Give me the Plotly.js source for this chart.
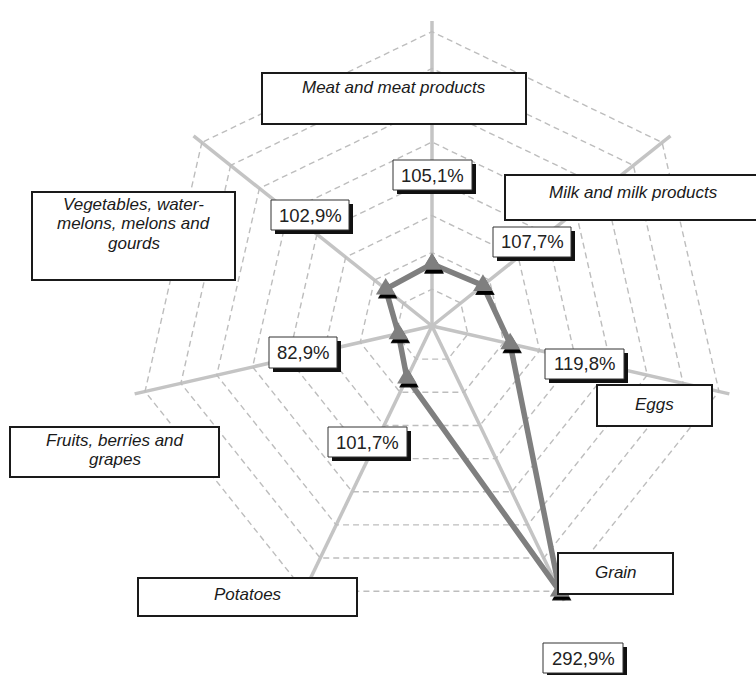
<!DOCTYPE html>
<html>
<head>
<meta charset="utf-8">
<script src="https://cdn.plot.ly/plotly-3.0.1.min.js"></script>
<style>
  html, body { margin: 0; padding: 0; background: #fff; }
  #chart { width: 756px; height: 675px; }
</style>
</head>
<body>
<svg width="0" height="0" style="position:absolute">
  <defs>
    <filter id="mshadow" x="-50%" y="-50%" width="200%" height="220%">
      <feDropShadow dx="2" dy="3" stdDeviation="0" flood-color="#000" flood-opacity="1"/>
    </filter>
  </defs>
</svg>
<div id="chart"></div>
<script>
// ---- data ----
const categories = [
  'Meat and meat products',
  'Milk and milk products',
  'Eggs',
  'Grain',
  'Potatoes',
  'Fruits, berries and grapes',
  'Vegetables, water-melons, melons and gourds'
];
const values = [105.1, 107.7, 119.8, 292.9, 101.7, 82.9, 102.9];
const labelLines = [
  ['Meat and meat products'],
  ['Milk and milk products'],
  ['Eggs'],
  ['Grain'],
  ['Potatoes'],
  ['Fruits, berries and', 'grapes'],
  ['Vegetables, water-', 'melons, melons and', 'gourds']
];

// ---- layout positions (pixels in the 756x675 figure) ----
const W = 756, H = 675;
const catBoxes = [[262,73,526,124],[505,175,762,220],[597,385,712,426],[558,553,673,594],[138,578,357,616],[10,427,219,477],[32,192,235,280]];
const catTextY = [[88],[192],[404],[572],[594],[440.6,459.8],[204.6,223.8,243.0]];
const valBoxes = [[393,160,472,190],[493,227,571,257],[545,349,624,379],[543,643,623,673],[328,427,407,457],[269,337,337,368],[271,200,349,230]];

const px = x => x / W;
const py = y => 1 - y / H;
const fmt = v => v.toFixed(1).replace('.', ',') + '%';

const shapes = [];
const annotations = [];
const FONT = '"Liberation Sans", Arial, sans-serif';

catBoxes.forEach((b, i) => {
  shapes.push({type:'rect', xref:'paper', yref:'paper', layer:'above',
    x0:px(b[0]), x1:px(b[2]), y0:py(b[3]), y1:py(b[1]),
    fillcolor:'#ffffff', line:{color:'#1a1a1a', width:2}});
  const cx = (b[0] + b[2]) / 2;
  labelLines[i].forEach((t, j) => {
    annotations.push({xref:'paper', yref:'paper', x:px(cx), y:py(catTextY[i][j]),
      xanchor:'center', yanchor:'middle', showarrow:false, text:'<i>' + t + '</i>',
      font:{family:FONT, size:17, color:'#1a1a1a'}});
  });
});

valBoxes.forEach((b, i) => {
  shapes.push({type:'rect', xref:'paper', yref:'paper', layer:'above',
    x0:px(b[0]+4), x1:px(b[2]+4), y0:py(b[3]+4), y1:py(b[1]+4),
    fillcolor:'#111111', line:{width:0}});
  shapes.push({type:'rect', xref:'paper', yref:'paper', layer:'above',
    x0:px(b[0]), x1:px(b[2]), y0:py(b[3]), y1:py(b[1]),
    fillcolor:'#ffffff', line:{color:'#333333', width:1}});
  annotations.push({xref:'paper', yref:'paper', x:px((b[0]+b[2])/2), y:py((b[1]+b[3])/2),
    xanchor:'center', yanchor:'middle', showarrow:false, text:fmt(values[i]),
    font:{family:FONT, size:18.5, color:'#222222'}});
});

const trace = {
  type: 'scatterpolar',
  r: values.concat([values[0]]),
  theta: categories.concat([categories[0]]),
  mode: 'lines+markers',
  line: {color:'#7f7f7f', width:5.5},
  marker: {symbol:'triangle-up', size:17, color:'#7f7f7f'},
  hoverinfo: 'skip',
  cliponaxis: false
};

// center (432,326), radius 305 px
const layout = {
  width: W, height: H, autosize: false,
  margin: {l:0, r:0, t:0, b:0},
  paper_bgcolor: '#ffffff',
  showlegend: false,
  polar: {
    domain: {x:[(432-305)/W, (432+305)/W], y:[(H-326-305)/H, (H-326+305)/H]},
    bgcolor: '#ffffff',
    gridshape: 'linear',
    radialaxis: {
      range: [55, 301.6], tick0: 55, dtick: 29.75,
      showticklabels: false, ticks: '', showline: false,
      gridcolor: '#bdbdbd', gridwidth: 1.4, griddash: '6px,4px'
    },
    angularaxis: {
      type: 'category', rotation: 90, direction: 'clockwise',
      showticklabels: false, ticks: '', showline: false,
      gridcolor: '#c4c4c4', gridwidth: 3.5
    }
  },
  shapes: shapes,
  annotations: annotations
};

Plotly.newPlot('chart', [trace], layout, {staticPlot: true, displayModeBar: false}).then(() => {
  document.querySelectorAll('.polarlayer .scatterlayer path.point').forEach(p => {
    const t = p.getAttribute('transform') || '';
    p.setAttribute('transform', t + ' scale(1,1.3)');
    p.setAttribute('filter', 'url(#mshadow)');
  });
});
</script>
</body>
</html>
